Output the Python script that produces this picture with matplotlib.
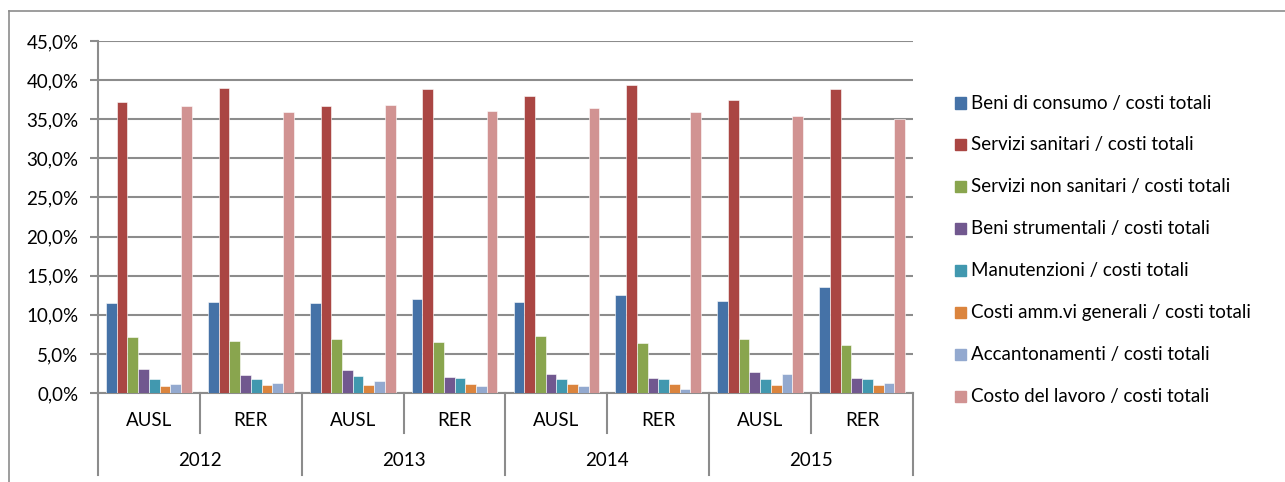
#!/usr/bin/env python3

import numpy
from matplotlib import pyplot
from matplotlib.lines import Line2D
from matplotlib.ticker import FuncFormatter

anni = ["2012", "2013", "2014", "2015"]
enti = ["AUSL", "RER"]

# quote percentuali sui costi totali, ordine: 2012 AUSL, 2012 RER, 2013 AUSL, ...
beni_consumo = [11.55, 11.60, 11.55, 12.00, 11.68, 12.49, 11.76, 13.55]
servizi_sanitari = [37.14, 38.94, 36.63, 38.89, 38.03, 39.36, 37.52, 38.85]
servizi_non_sanitari = [7.16, 6.65, 6.90, 6.52, 7.29, 6.43, 6.90, 6.14]
beni_strumentali = [3.07, 2.30, 2.94, 2.09, 2.38, 1.92, 2.64, 1.87]
manutenzioni = [1.79, 1.75, 2.17, 1.92, 1.79, 1.75, 1.79, 1.79]
costi_amm_generali = [0.94, 1.02, 1.02, 1.10, 1.10, 1.15, 1.02, 1.06]
accantonamenti = [1.20, 1.28, 1.53, 0.90, 0.94, 0.55, 2.38, 1.28]
costo_lavoro = [36.67, 35.94, 36.84, 36.10, 36.41, 35.98, 35.43, 35.00]

serie = [
    ("Beni di consumo / costi totali", beni_consumo, "#4572A7"),
    ("Servizi sanitari / costi totali", servizi_sanitari, "#AA4643"),
    ("Servizi non sanitari / costi totali", servizi_non_sanitari, "#89A54E"),
    ("Beni strumentali / costi totali", beni_strumentali, "#71588F"),
    ("Manutenzioni / costi totali", manutenzioni, "#4198AF"),
    ("Costi amm.vi generali / costi totali", costi_amm_generali, "#DB843D"),
    ("Accantonamenti / costi totali", accantonamenti, "#93A9CF"),
    ("Costo del lavoro / costi totali", costo_lavoro, "#D19392"),
]

FONT = "Lato"
FS = 13.5
GRIGIO = "#8C8C8C"
W, H = 1285, 482

fig = pyplot.figure(figsize=(W / 100, H / 100), dpi=100)
ax = fig.add_axes([98 / W, 1 - 393 / H, 815 / W, 352 / H])

n_gruppi = len(beni_consumo)
x = numpy.arange(n_gruppi) + 0.5
larg = 1 / (len(serie) + 1.5)
for i, (nome, valori, col) in enumerate(serie):
    ax.bar(x + (i - 3.5) * larg, valori, width=larg, color=col,
           edgecolor="white", linewidth=0.4, label=nome, zorder=3)

ax.set_xlim(0, n_gruppi)
ax.set_ylim(0, 45)
ax.set_yticks(numpy.arange(0, 46, 5))
ax.yaxis.set_major_formatter(FuncFormatter(lambda v, p: f"{v:.1f}%".replace(".", ",")))
ax.yaxis.grid(True, color=GRIGIO, linewidth=1.5, zorder=0)
ax.set_xticks([])
for s in ["top", "right"]:
    ax.spines[s].set_visible(False)
for s in ["left", "bottom"]:
    ax.spines[s].set_color(GRIGIO)
    ax.spines[s].set_linewidth(1.5)
ax.tick_params(axis="y", length=6, width=1.5, color=GRIGIO, pad=8)
for lab in ax.get_yticklabels():
    lab.set_fontfamily(FONT)
    lab.set_fontsize(FS)

# asse categorie a due livelli (ente / anno)
tr = ax.get_xaxis_transform()
h_corta = -40 / 352
h_lunga = -82 / 352
for k in range(n_gruppi + 1):
    fondo = h_lunga if k % 2 == 0 else h_corta
    ax.add_line(Line2D([k, k], [0, fondo], transform=tr, color=GRIGIO,
                       linewidth=1.5, clip_on=False))
for k in range(n_gruppi):
    ax.text(k + 0.5, -27 / 352, enti[k % 2], transform=tr, ha="center",
            va="center", fontsize=FS, family=FONT)
for j, anno in enumerate(anni):
    ax.text(2 * j + 1, -68 / 352, anno, transform=tr, ha="center",
            va="center", fontsize=FS, family=FONT)

# legenda a destra
for i, (nome, valori, col) in enumerate(serie):
    y = 1 - (103 + i * 41.9) / H
    fig.patches.append(pyplot.Rectangle((955 / W, y - 5.5 / H), 11 / W, 11 / H,
                                        transform=fig.transFigure, color=col))
    fig.text(971 / W, y, nome, ha="left", va="center", fontsize=FS, family=FONT)

# cornice esterna
fig.add_artist(Line2D([9 / W, 1], [1 - 11 / H, 1 - 11 / H], color=GRIGIO, linewidth=1.2))
fig.add_artist(Line2D([9 / W, 9 / W], [0, 1 - 11 / H], color=GRIGIO, linewidth=1.2))

fig.savefig("out.png", dpi=100)
